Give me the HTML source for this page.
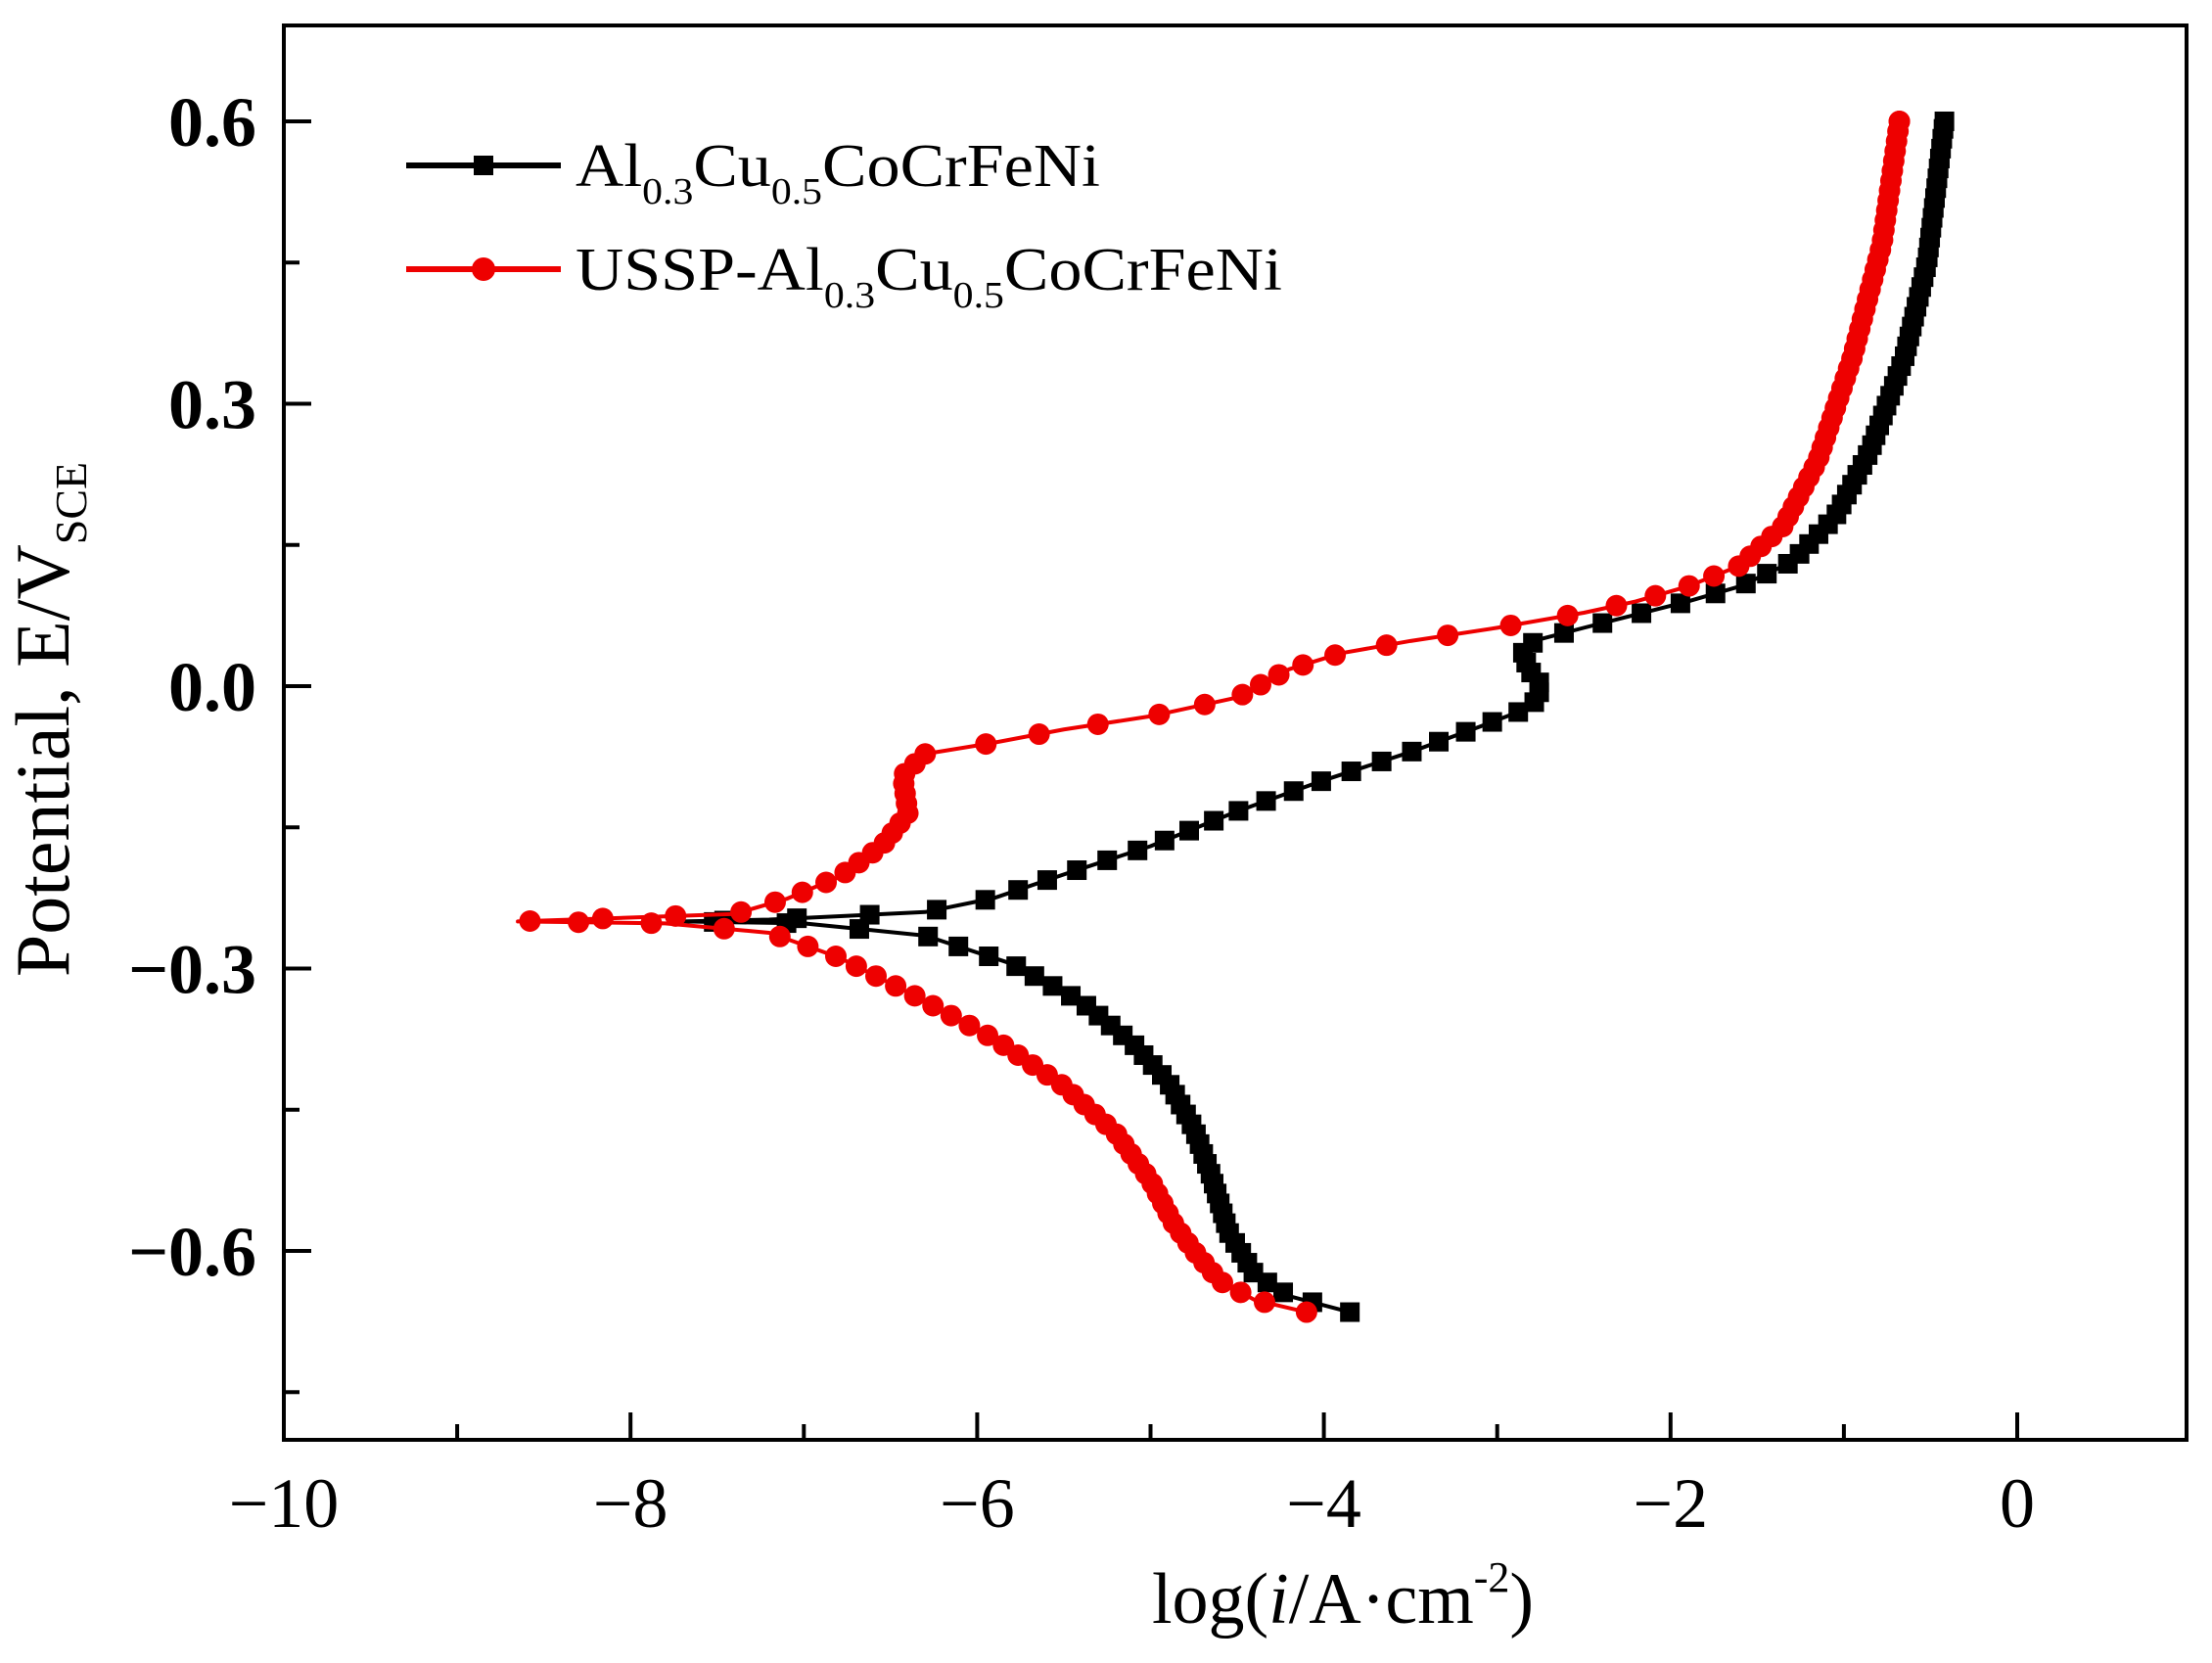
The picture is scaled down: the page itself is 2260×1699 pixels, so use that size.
<!DOCTYPE html>
<html><head><meta charset="utf-8"><style>html,body{margin:0;padding:0;background:#fff}svg{display:block}</style></head>
<body>
<svg id="s" width="2260" height="1699" viewBox="0 0 2260 1699" xmlns="http://www.w3.org/2000/svg" font-family="Liberation Serif, serif">
<rect width="2260" height="1699" fill="#fff"/>
<g id="ticks" stroke="#000" stroke-width="4"></g>
<rect x="290" y="26" width="1944" height="1445" fill="none" stroke="#000" stroke-width="4"/>
<g id="tl" font-size="72" fill="#000"></g>
<text x="1372" y="1658" font-size="74" text-anchor="middle">log(<tspan font-style="italic">i</tspan>/A·cm<tspan font-size="44" dy="-32">-2</tspan><tspan dy="32">)</tspan></text>
<g transform="translate(70,735) rotate(-90)"><text x="0" y="0" font-size="78" text-anchor="middle">Potential, E/V<tspan font-size="46" dy="18">SCE</tspan></text></g>
<g id="plot"></g>
<line x1="415" y1="169" x2="573" y2="169" stroke="#000" stroke-width="6"/>
<rect x="484" y="159" width="20" height="20" fill="#000"/>
<line x1="415" y1="275" x2="573" y2="275" stroke="#e00" stroke-width="6"/>
<circle cx="494" cy="275" r="12" fill="#e00"/>
<text x="588" y="190" font-size="62" textLength="536" lengthAdjust="spacingAndGlyphs">Al<tspan font-size="38" dy="18">0.3</tspan><tspan dy="-18">Cu</tspan><tspan font-size="38" dy="18">0.5</tspan><tspan dy="-18">CoCrFeNi</tspan></text>
<text x="588" y="296" font-size="62" textLength="722" lengthAdjust="spacingAndGlyphs">USSP-Al<tspan font-size="38" dy="18">0.3</tspan><tspan dy="-18">Cu</tspan><tspan font-size="38" dy="18">0.5</tspan><tspan dy="-18">CoCrFeNi</tspan></text>
</svg>
<script>
var NS="http://www.w3.org/2000/svg";
function X(v){return 290+(v+10)*177.1;}
function Y(v){return 701-v*961.7;}
function el(n,a,p){var e=document.createElementNS(NS,n);for(var k in a)e.setAttribute(k,a[k]);p.appendChild(e);return e;}
var tk=document.getElementById('ticks'),tl=document.getElementById('tl');
for(var i=-10;i<=0;i++){var x=X(i),maj=(i%2==0);el('line',{x1:x,y1:1471,x2:x,y2:1471-(maj?28:16)},tk);
 if(maj){var t=el('text',{x:x,y:1560,'text-anchor':'middle'},tl);t.textContent=(i<0?'\u2212':'')+Math.abs(i);}}
for(var k=-15;k<=12;k+=3){var v=k*0.05,y=Y(v),maj=(k%6==0);
 el('line',{x1:290,y1:y,x2:290+(maj?28:16),y2:y},tk);
 if(maj){var t=el('text',{x:262,y:y+25,'text-anchor':'end','font-weight':'bold'},tl);t.textContent=(v<-1e-9?'\u2212':'')+Math.abs(v).toFixed(1);}}
var black=[[-3.85,-0.665],[-4.2,-0.648],[-4.4,-0.625],[-4.55,-0.58],[-4.65,-0.52],[-4.75,-0.47],[-4.9,-0.42],[-5.1,-0.38],[-5.4,-0.335],[-5.8,-0.295],[-6.3,-0.265],[-7.0,-0.252],[-7.7,-0.25],[-7.2,-0.248],[-6.3,-0.24],[-5.9,-0.225],[-5.5,-0.2],[-5,-0.17],[-4.5,-0.133],[-4,-0.1],[-3.5,-0.07],[-3.1,-0.043],[-2.8,-0.022],[-2.74,0.0],[-2.82,0.018],[-2.86,0.04],[-2.75,0.05],[-2.5,0.062],[-2.2,0.076],[-1.9,0.09],[-1.6,0.106],[-1.3,0.132],[-1.05,0.18],[-0.85,0.25],[-0.65,0.35],[-0.52,0.45],[-0.42,0.6]];
var red=[[-4.1,-0.665],[-4.4,-0.652],[-4.6,-0.632],[-4.75,-0.6],[-4.87,-0.57],[-5.0,-0.525],[-5.2,-0.475],[-5.5,-0.425],[-5.9,-0.375],[-6.4,-0.325],[-6.8,-0.288],[-7.2,-0.262],[-7.8,-0.252],[-8.65,-0.25],[-7.4,-0.242],[-7.1,-0.226],[-6.8,-0.203],[-6.55,-0.17],[-6.4,-0.135],[-6.43,-0.095],[-6.3,-0.072],[-5.9,-0.06],[-5.5,-0.046],[-5.0,-0.032],[-4.5,-0.012],[-4.2,0.018],[-3.9,0.035],[-3.5,0.048],[-3.0,0.062],[-2.5,0.078],[-2.2,0.09],[-1.9,0.106],[-1.6,0.128],[-1.35,0.17],[-1.15,0.24],[-0.95,0.35],[-0.78,0.47],[-0.68,0.6]];
var plot=document.getElementById('plot');
function draw(d,col,sq){
 var pts=d.map(function(p){return [X(p[0]),Y(p[1])];});
 el('polyline',{points:pts.map(function(p){return p.join(',')}).join(' '),fill:'none',stroke:col,'stroke-width':4,'stroke-linejoin':'round'},plot);
 var step=0.0105,acc=0;
 function mk(x,y){if(sq)el('rect',{x:x-10,y:y-10,width:20,height:20,fill:col},plot);else el('circle',{cx:x,cy:y,r:11,fill:col},plot);}
 mk(pts[0][0],pts[0][1]);
 for(var i=1;i<d.length;i++){var dE=Math.abs(d[i][1]-d[i-1][1]),dx=Math.abs(d[i][0]-d[i-1][0])*0.025;var L=Math.max(dE,dx);
  var s=step-acc;while(s<=L){var f=s/L;mk(pts[i-1][0]+(pts[i][0]-pts[i-1][0])*f,pts[i-1][1]+(pts[i][1]-pts[i-1][1])*f);s+=step;}
  acc=L-(s-step);}
 mk(pts[pts.length-1][0],pts[pts.length-1][1]);
}
draw(black,'#000',true);
draw(red,'#e00',false);
</script>
</body></html>
